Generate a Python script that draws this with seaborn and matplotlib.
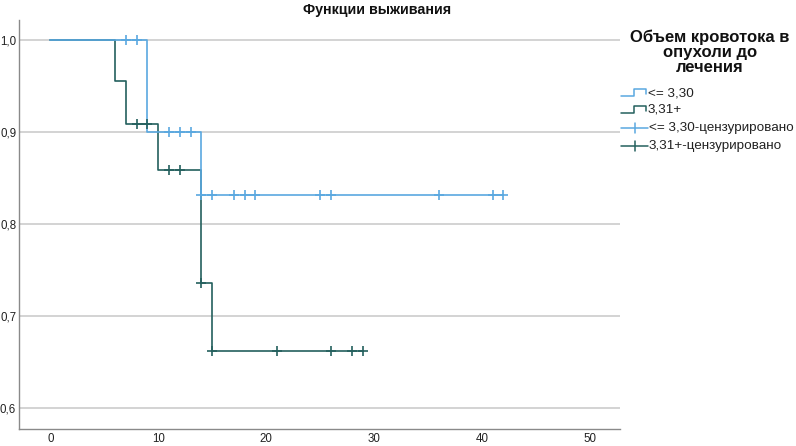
import numpy as np
import pandas as pd
import matplotlib
matplotlib.use("Agg")
import matplotlib.pyplot as plt
from matplotlib.lines import Line2D
import seaborn as sns

# ---------------- data ----------------
title = "Функции выживания"
legend_title = "Объем кровотока в\nопухоли до\nлечения"
group_labels = ["<= 3,30", "3,31+"]
censor_labels = ["<= 3,30-цензурировано", "3,31+-цензурировано"]

# group "<= 3,30"
low_event_times = [0, 9, 14]
low_surv = [1.0, 0.900, 0.831]
low_end = 42
low_censored = [7, 8, 11, 12, 13, 14, 15, 17, 18, 19, 25, 26, 36, 41, 42]

# group "3,31+"
high_event_times = [0, 6, 7, 10, 14, 15]
high_surv = [1.0, 0.955, 0.909, 0.859, 0.736, 0.662]
high_end = 29
high_censored = [8, 9, 11, 12, 14, 15, 21, 26, 28, 29]

x_ticks = [0, 10, 20, 30, 40, 50]
y_ticks = [0.6, 0.7, 0.8, 0.9, 1.0]
y_tick_labels = ["0,6", "0,7", "0,8", "0,9", "1,0"]

col_low = "#5aa8e0"
col_high = "#24605e"

# ---------------- figure ----------------
sns.set_theme(style="white")
plt.rcParams["font.family"] = ["Liberation Sans", "DejaVu Sans"]

W, H = 796, 446
fig = plt.figure(figsize=(W / 100, H / 100), dpi=100)
ax_left, ax_right, ax_top, ax_bottom = 19, 620, 20, 429
ax = fig.add_axes([ax_left / W, 1 - ax_bottom / H, (ax_right - ax_left) / W, (ax_bottom - ax_top) / H])


def step_frame(times, surv, end):
    t = list(times) + [end]
    s = list(surv) + [surv[-1]]
    return pd.DataFrame({"t": t, "s": s})


def censor_frame(times, surv, cens):
    tt = np.asarray(times)
    ss = np.asarray(surv)
    vals = [ss[np.searchsorted(tt, c, side="right") - 1] for c in cens]
    return pd.DataFrame({"t": cens, "s": vals})


for times, surv, end, cens, col in [
    (high_event_times, high_surv, high_end, high_censored, col_high),
    (low_event_times, low_surv, low_end, low_censored, col_low),
]:
    df = step_frame(times, surv, end)
    sns.lineplot(data=df, x="t", y="s", drawstyle="steps-post", color=col,
                 lw=1.2, ax=ax, estimator=None, sort=False)
    cf = censor_frame(times, surv, cens)
    sns.scatterplot(data=cf, x="t", y="s", marker="+", s=45, color=col,
                    linewidth=1.2, ax=ax, zorder=4)

ax.set_xlim(-2.9, 52.8)
ax.set_ylim(0.577, 1.0217)
ax.set_xticks(x_ticks)
ax.set_xticklabels([str(v) for v in x_ticks])
ax.set_yticks(y_ticks)
ax.set_yticklabels(y_tick_labels)
ax.set_xlabel("")
ax.set_ylabel("")
ax.tick_params(axis="both", length=0, labelsize=8.3, colors="#222222")
ax.tick_params(axis="x", pad=3)
ax.tick_params(axis="y", pad=2)
ax.yaxis.grid(True, color="#c8c8c8", lw=1.1)
ax.xaxis.grid(False)
ax.set_axisbelow(True)
for side in ["top", "right"]:
    ax.spines[side].set_visible(False)
for side in ["left", "bottom"]:
    ax.spines[side].set_color("#8a8a8a")
    ax.spines[side].set_linewidth(1.0)

# title
fig.text(377 / W, 1 - 10 / H, title, ha="center", va="center",
         fontsize=10.3, fontweight="bold", color="#111111")

# legend (manual)
fig.text(710 / W, 1 - 52 / H, legend_title, ha="center", va="center",
         fontsize=12, fontweight="bold", color="#111111", linespacing=1.0)


def fx(x):
    return x / W


def fy(y):
    return 1 - y / H


item_y = [93, 110, 128, 146]
for i, (lab, col) in enumerate(zip(group_labels, [col_low, col_high])):
    y = item_y[i]
    xs = [621, 634, 634, 646, 646]
    ys = [y + 3, y + 3, y - 4, y - 4, y + 1]
    fig.add_artist(Line2D([fx(v) for v in xs], [fy(v) for v in ys],
                          color=col, lw=1.1, transform=fig.transFigure))
    fig.text(fx(648), fy(y), lab, ha="left", va="center", fontsize=9.7,
             color="#222222")
for i, (lab, col) in enumerate(zip(censor_labels, [col_low, col_high])):
    y = item_y[i + 2]
    fig.add_artist(Line2D([fx(621), fx(648)], [fy(y), fy(y)],
                          color=col, lw=1.1, transform=fig.transFigure))
    fig.add_artist(Line2D([fx(635), fx(635)], [fy(y - 5), fy(y + 5)],
                          color=col, lw=1.1, transform=fig.transFigure))
    fig.text(fx(649), fy(y), lab, ha="left", va="center", fontsize=9.7,
             color="#222222")

fig.savefig("out.png", dpi=100)
